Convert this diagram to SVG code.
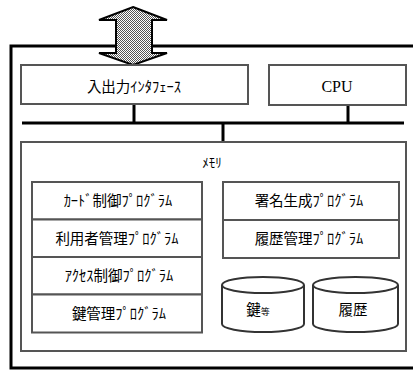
<svg xmlns="http://www.w3.org/2000/svg" width="413" height="371" viewBox="0 0 413 371">
<defs>
<pattern id="chk" width="2" height="2" patternUnits="userSpaceOnUse">
<rect width="2" height="2" fill="#fff"/>
<rect width="1" height="1" fill="#555"/>
<rect x="1" y="1" width="1" height="1" fill="#555"/>
</pattern>
<style>
.box{fill:#fff;stroke:#555;stroke-width:2}
.line{stroke:#000;stroke-width:3;fill:none}
.t{font-family:"Noto Sans CJK JP","Liberation Serif",serif;font-size:14.5px;fill:#000;text-anchor:middle}
.cpu{font-family:"Liberation Serif",serif;font-size:16px;fill:#000;text-anchor:middle}
.cyl{fill:#fff;stroke:#333;stroke-width:2}
</style>
</defs>
<rect width="413" height="371" fill="#fff"/>
<path class="line" d="M413,46 H11 V368 H413"/>
<g id="connectors">
<line class="line" x1="22" y1="123" x2="404" y2="123"/>
<line class="line" x1="134" y1="104" x2="134" y2="123"/>
<line class="line" x1="348" y1="105" x2="348" y2="123"/>
<line class="line" x1="223" y1="123" x2="223" y2="142"/>
</g>
<g id="arrow">
<path d="M133,7 L167,20 H152 V53 H167 L133,65 L99,53 H116 V20 H99 Z" fill="url(#chk)" stroke="#000" stroke-width="2" stroke-linejoin="miter"/>
</g>
<g id="io">
<rect class="box" x="21" y="65" width="227" height="39"/>
<text class="t" x="134" y="92">入出力ｲﾝﾀﾌｪｰｽ</text>
</g>
<g id="cpu">
<rect class="box" x="269" y="65" width="137" height="40"/>
<text class="cpu" x="337" y="92">CPU</text>
</g>
<g id="memory">
<rect class="box" x="21" y="142" width="385" height="209"/>
<text class="t" x="212" y="167" style="font-size:13px">ﾒﾓﾘ</text>
</g>
<g id="card">
<rect class="box" x="32" y="182" width="170" height="37.5"/>
<text class="t" x="118" y="206">ｶｰﾄﾞ制御ﾌﾟﾛｸﾞﾗﾑ</text>
</g>
<g id="user">
<rect class="box" x="32" y="219.5" width="170" height="37.5"/>
<text class="t" x="117" y="243.5">利用者管理ﾌﾟﾛｸﾞﾗﾑ</text>
</g>
<g id="access">
<rect class="box" x="32" y="257" width="170" height="37.5"/>
<text class="t" x="119" y="281">ｱｸｾｽ制御ﾌﾟﾛｸﾞﾗﾑ</text>
</g>
<g id="keymgmt">
<rect class="box" x="32" y="294.5" width="170" height="38"/>
<text class="t" x="119" y="319">鍵管理ﾌﾟﾛｸﾞﾗﾑ</text>
</g>
<g id="sign">
<rect class="box" x="223" y="182" width="176" height="38"/>
<text class="t" x="309" y="206">署名生成ﾌﾟﾛｸﾞﾗﾑ</text>
</g>
<g id="history">
<rect class="box" x="223" y="220" width="176" height="38"/>
<text class="t" x="309" y="244">履歴管理ﾌﾟﾛｸﾞﾗﾑ</text>
</g>
<g id="keydb">
<path class="cyl" d="M222,285 V324 A41,8 0 0 0 304,324 V285"/>
<ellipse class="cyl" cx="263" cy="285" rx="41" ry="8"/>
<text class="t" x="258" y="315">鍵<tspan style="font-size:9px">等</tspan></text>
</g>
<g id="histdb">
<path class="cyl" d="M313,285 V324 A42.5,8 0 0 0 398,324 V285"/>
<ellipse class="cyl" cx="355.5" cy="285" rx="42.5" ry="8"/>
<text class="t" x="353" y="315">履歴</text>
</g>
</svg>
